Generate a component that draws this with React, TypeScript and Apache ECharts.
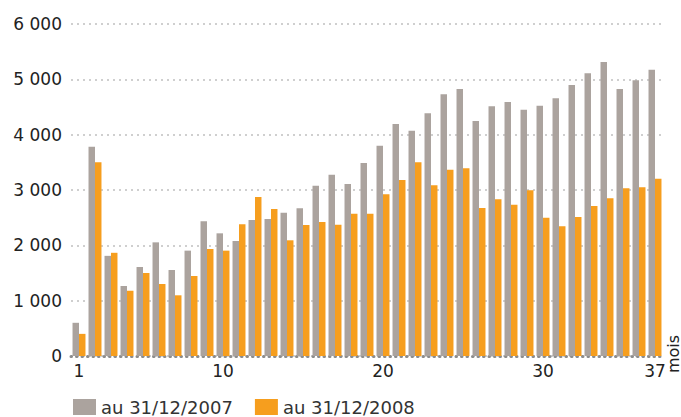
import React, { useEffect, useRef } from "react";
import * as echarts from "echarts";

const months = ["1","2","3","4","5","6","7","8","9","10","11","12","13","14","15","16","17","18","19","20","21","22","23","24","25","26","27","28","29","30","31","32","33","34","35","36","37"];
const shownLabels = ["1", "10", "20", "30", "37"];
const series2007 = [600, 3780, 1810, 1265, 1608, 2054, 1554, 1904, 2434, 2217, 2078, 2458, 2476, 2590, 2669, 3078, 3277, 3109, 3488, 3801, 4193, 4072, 4386, 4729, 4825, 4247, 4512, 4590, 4452, 4524, 4657, 4898, 5109, 5313, 4825, 4982, 5175];
const series2008 = [400, 3500, 1865, 1180, 1500, 1301, 1097, 1446, 1934, 1904, 2380, 2874, 2657, 2091, 2368, 2422, 2373, 2572, 2572, 2922, 3181, 3500, 3085, 3367, 3392, 2675, 2831, 2735, 2994, 2500, 2344, 2512, 2711, 2850, 3030, 3048, 3205];
const seriesNames = ["au 31/12/2007", "au 31/12/2008"];
const axisName = "mois";

const FONT = "DejaVu Sans, Verdana, sans-serif";

export default function App() {
  const ref = useRef<HTMLDivElement>(null);
  useEffect(() => {
    if (!ref.current) return;
    const chart = echarts.init(ref.current, null, { renderer: "svg" });
    chart.setOption({
      animation: false,
      backgroundColor: "#ffffff",
      grid: { left: 71, right: 18, top: 24, bottom: 61, containLabel: false },
      legend: {
        left: 73,
        bottom: 1,
        padding: 0,
        itemWidth: 23,
        itemHeight: 16,
        itemGap: 22,
        icon: "rect",
        textStyle: { fontFamily: FONT, fontSize: 18, color: "#333333" },
        data: seriesNames,
      },
      xAxis: {
        type: "category",
        data: months,
        boundaryGap: true,
        axisTick: { show: false },
        axisLine: {
          show: true,
          lineStyle: { color: "#8c8c8c", width: 3, type: [0.5, 5], cap: "round" },
        },
        axisLabel: {
          interval: (_i: number, v: string) => shownLabels.includes(v),
          fontFamily: FONT,
          fontSize: 17,
          color: "#222222",
          margin: 6,
        },
      },
      yAxis: {
        type: "value",
        min: 0,
        max: 6000,
        interval: 1000,
        axisLine: { show: false },
        axisTick: { show: false },
        splitLine: {
          show: true,
          lineStyle: { color: "#cfcfcf", width: 2, type: [2, 4] },
        },
        axisLabel: {
          fontFamily: FONT,
          fontSize: 17,
          color: "#222222",
          margin: 9,
          formatter: (v: number) => String(v).replace(/\B(?=(\d{3})+(?!\d))/g, " "),
        },
      },
      series: [
        {
          name: seriesNames[0],
          type: "bar",
          data: series2007,
          itemStyle: { color: "#aba39e" },
          barGap: "0%",
          barCategoryGap: "19%",
        },
        {
          name: seriesNames[1],
          type: "bar",
          data: series2008,
          itemStyle: { color: "#f69e1e" },
          barGap: "0%",
          barCategoryGap: "19%",
        },
      ],
      graphic: [
        {
          type: "text",
          x: 673,
          y: 354,
          rotation: Math.PI / 2,
          style: {
            text: axisName,
            fontFamily: FONT,
            fontSize: 16,
            fill: "#222222",
            align: "center",
            verticalAlign: "middle",
          },
        },
      ],
    });
    return () => chart.dispose();
  }, []);
  return <div ref={ref} style={{ width: 681, height: 417, position: "absolute", left: 0, top: 0 }} />;
}
